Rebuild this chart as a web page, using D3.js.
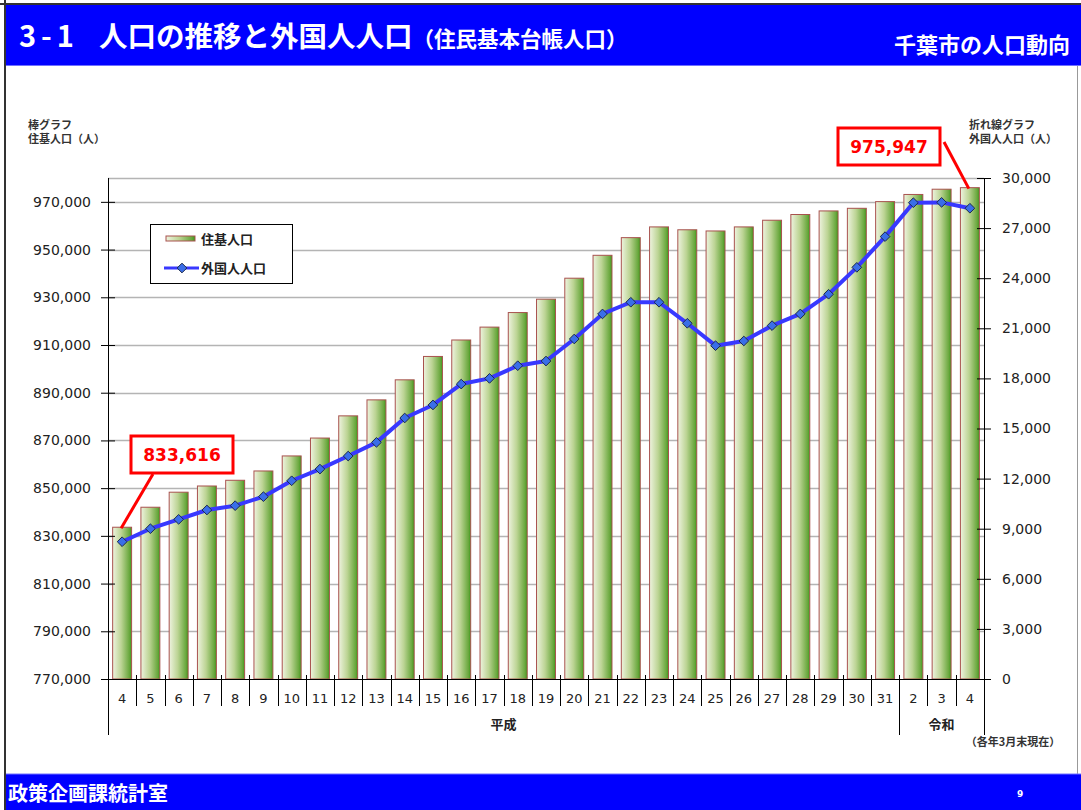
<!DOCTYPE html>
<html>
<head>
<meta charset="utf-8">
<script src="https://cdn.jsdelivr.net/npm/d3@7"></script>
<style>
  body { margin: 0; background: #fff; }
  svg { display: block; }
  .jp { font-family: "Noto Sans CJK JP", "Noto Sans", sans-serif; }
  .num { font-family: "DejaVu Sans", Verdana, sans-serif; }
</style>
</head>
<body>
<script>
// 年次ラベル（平成4年〜令和4年、各年3月末）
const yearLabels = ["4","5","6","7","8","9","10","11","12","13","14","15","16","17","18","19",
  "20","21","22","23","24","25","26","27","28","29","30","31","2","3","4"];
const eraNames = ["平成", "令和"];
const eraSpans = [28, 3];

// 住基人口（棒グラフ）
const residents = [833616, 842000, 848300, 850900, 853300, 857200, 863500, 871000, 880300, 887000,
  895400, 905200, 912100, 917500, 923600, 929200, 938000, 947600, 955000, 959500,
  958300, 957800, 959500, 962300, 964700, 966200, 967300, 970100, 973100, 975300, 975947];

// 外国人人口（折れ線グラフ）
const foreigners = [8220, 9000, 9560, 10120, 10380, 10920, 11870, 12570, 13350, 14170,
  15630, 16410, 17660, 18000, 18760, 19040, 20360, 21860, 22560, 22560,
  21300, 19960, 20240, 21160, 21860, 23040, 24650, 26490, 28520, 28540, 28190];

const leftTicks = d3.range(770000, 970001, 20000);
const rightTicks = d3.range(0, 30001, 3000);

const W = 1081, H = 810;
const plot = { left: 108, right: 984, top: 178, bottom: 679 };

const svg = d3.select("body").append("svg")
    .attr("width", W)
    .attr("height", H);

// header / footer
svg.append("rect").attr("x", 0).attr("y", 0).attr("width", W).attr("height", H).attr("fill", "#fff");
svg.append("rect").attr("x", 6).attr("y", 5).attr("width", W - 6).attr("height", 60).attr("fill", "#0000ff");
svg.append("line").attr("x1", 6).attr("x2", W).attr("y1", 65.5).attr("y2", 65.5).attr("stroke", "#7070ff");
svg.append("line").attr("x1", 0).attr("x2", W).attr("y1", 4).attr("y2", 4).attr("stroke", "#333").attr("stroke-width", 2);
svg.append("line").attr("x1", 5).attr("x2", 5).attr("y1", 0).attr("y2", H).attr("stroke", "#333").attr("stroke-width", 2);
svg.append("line").attr("x1", 1077.5).attr("x2", 1077.5).attr("y1", 66).attr("y2", 774).attr("stroke", "#999");

const title = svg.append("text").attr("class", "jp")
    .attr("y", 47)
    .attr("fill", "#fff").attr("font-weight", "bold");
title.append("tspan").attr("x", 19).attr("font-size", 29).attr("letter-spacing", 5).text("3-1");
title.append("tspan").attr("x", 99).attr("font-size", 28.5).text("人口の推移と外国人人口");
title.append("tspan").attr("font-size", 21.5).text("（住民基本台帳人口）");

svg.append("text").attr("class", "jp")
    .attr("x", 1070).attr("y", 53)
    .attr("text-anchor", "end")
    .attr("fill", "#fff").attr("font-weight", "bold").attr("font-size", 22)
    .text("千葉市の人口動向");

svg.append("rect").attr("x", 6).attr("y", 774).attr("width", W - 6).attr("height", 36).attr("fill", "#0000ff");
svg.append("line").attr("x1", 6).attr("x2", W).attr("y1", 774).attr("y2", 774).attr("stroke", "#7070ff");
svg.append("text").attr("class", "jp")
    .attr("x", 8).attr("y", 801)
    .attr("fill", "#fff").attr("font-weight", "bold").attr("font-size", 20)
    .text("政策企画課統計室");
svg.append("text").attr("class", "num")
    .attr("x", 1017).attr("y", 797)
    .attr("fill", "#fff").attr("font-weight", "bold").attr("font-size", 9)
    .text("9");

// scales
const x = d3.scaleBand()
    .domain(d3.range(yearLabels.length))
    .range([plot.left, plot.right])
    .paddingInner(0.33)
    .paddingOuter(0.165);

const yL = d3.scaleLinear().domain([770000, 980000]).range([plot.bottom, plot.top]);
const yR = d3.scaleLinear().domain([0, 30000]).range([plot.bottom, plot.top]);

// gradient for bars
const defs = svg.append("defs");
const grad = defs.append("linearGradient").attr("id", "barGrad")
    .attr("x1", "0%").attr("x2", "100%").attr("y1", "0%").attr("y2", "0%");
grad.append("stop").attr("offset", "0%").attr("stop-color", "#eef3df");
grad.append("stop").attr("offset", "45%").attr("stop-color", "#bcd494");
grad.append("stop").attr("offset", "88%").attr("stop-color", "#6aa83e");
grad.append("stop").attr("offset", "100%").attr("stop-color", "#3a9a1c");

// grid
svg.append("g").selectAll("line")
    .data(leftTicks.filter(d => d > 770000).concat([980000]))
    .join("line")
    .attr("x1", plot.left).attr("x2", plot.right)
    .attr("y1", d => Math.round(yL(d)) + 0.5).attr("y2", d => Math.round(yL(d)) + 0.5)
    .attr("stroke", "#b4b4b4").attr("stroke-width", 1.5);

// bars
svg.append("g").selectAll("rect")
    .data(residents)
    .join("rect")
    .attr("x", (d, i) => x(i))
    .attr("y", d => yL(d))
    .attr("width", x.bandwidth())
    .attr("height", d => plot.bottom - yL(d))
    .attr("fill", "url(#barGrad)")
    .attr("stroke", "#a8524e")
    .attr("stroke-width", 1);

// axes
const axL = svg.append("g").attr("class", "num")
    .attr("transform", `translate(${plot.left},0)`)
    .call(d3.axisLeft(yL).tickValues(leftTicks).tickFormat(d3.format(",")).tickSize(7).tickPadding(10));
axL.select(".domain").remove();
axL.selectAll(".tick line").attr("x1", 7).attr("stroke", "#000");
axL.selectAll("text").attr("font-size", 14).attr("fill", "#222");

const axR = svg.append("g").attr("class", "num")
    .attr("transform", `translate(${plot.right},0)`)
    .call(d3.axisRight(yR).tickValues(rightTicks).tickFormat(d3.format(",")).tickSize(7).tickPadding(11));
axR.select(".domain").remove();
axR.selectAll(".tick line").attr("x1", -7).attr("stroke", "#000");
axR.selectAll("text").attr("font-size", 14).attr("fill", "#222");

// axis lines and category separators
const step = x.step();
const eraBounds = Array.from(d3.cumsum(eraSpans));
const eraStart = [0].concat(eraBounds.slice(0, -1));
svg.append("line").attr("x1", plot.left - 7).attr("x2", plot.right + 7)
    .attr("y1", plot.bottom + 0.5).attr("y2", plot.bottom + 0.5).attr("stroke", "#000");
svg.append("line").attr("x1", plot.left + 0.5).attr("x2", plot.left + 0.5)
    .attr("y1", plot.top).attr("y2", 735).attr("stroke", "#000");
svg.append("line").attr("x1", plot.right + 0.5).attr("x2", plot.right + 0.5)
    .attr("y1", plot.top).attr("y2", 735).attr("stroke", "#000");
svg.append("g").selectAll("line")
    .data(d3.range(1, yearLabels.length))
    .join("line")
    .attr("x1", i => Math.round(plot.left + i * step) + 0.5)
    .attr("x2", i => Math.round(plot.left + i * step) + 0.5)
    .attr("y1", plot.bottom - 4)
    .attr("y2", i => eraBounds.includes(i) ? 735 : 706)
    .attr("stroke", "#000");

svg.append("g").selectAll("text")
    .data(yearLabels)
    .join("text")
    .attr("class", "num")
    .attr("x", (d, i) => x(i) + x.bandwidth() / 2)
    .attr("y", 703)
    .attr("text-anchor", "middle")
    .attr("font-size", 13)
    .attr("fill", "#222")
    .text(d => d);

svg.append("g").selectAll("text")
    .data(eraNames)
    .join("text")
    .attr("class", "jp")
    .attr("x", (d, i) => plot.left + (eraStart[i] + eraSpans[i] / 2) * step)
    .attr("y", 729)
    .attr("text-anchor", "middle")
    .attr("font-size", 13)
    .attr("font-weight", "bold")
    .attr("fill", "#222")
    .text(d => d);

svg.append("text").attr("class", "jp")
    .attr("x", 1013).attr("y", 746)
    .attr("text-anchor", "middle")
    .attr("font-size", 11).attr("font-weight", "bold").attr("fill", "#333")
    .text("（各年3月末現在）");

// line
const line = d3.line()
    .x((d, i) => x(i) + x.bandwidth() / 2)
    .y(d => yR(d));
svg.append("path")
    .datum(foreigners)
    .attr("d", line)
    .attr("fill", "none")
    .attr("stroke", "#3838ff")
    .attr("stroke-width", 4)
    .attr("stroke-linejoin", "round");

const diamond = d3.symbol().type(d3.symbolDiamond2).size(60);
svg.append("g").selectAll("path")
    .data(foreigners)
    .join("path")
    .attr("d", diamond)
    .attr("transform", (d, i) => `translate(${x(i) + x.bandwidth() / 2},${yR(d)})`)
    .attr("fill", "#3a6ee8")
    .attr("stroke", "#1c2a4a")
    .attr("stroke-width", 1);

// axis titles
const tl = svg.append("text").attr("class", "jp")
    .attr("font-size", 11).attr("font-weight", "bold").attr("fill", "#333");
tl.append("tspan").attr("x", 28).attr("y", 129).text("棒グラフ");
tl.append("tspan").attr("x", 28).attr("y", 143).text("住基人口（人）");
const tr = svg.append("text").attr("class", "jp")
    .attr("font-size", 11).attr("font-weight", "bold").attr("fill", "#333");
tr.append("tspan").attr("x", 969).attr("y", 129).text("折れ線グラフ");
tr.append("tspan").attr("x", 969).attr("y", 143).text("外国人人口（人）");

// legend
const lg = svg.append("g").attr("transform", "translate(150,224)");
lg.append("rect").attr("x", 0.5).attr("y", 0.5).attr("width", 142).attr("height", 59)
    .attr("fill", "#fff").attr("stroke", "#000");
lg.append("rect").attr("x", 16).attr("y", 12).attr("width", 29).attr("height", 5)
    .attr("fill", "url(#barGrad)").attr("stroke", "#a8524e");
lg.append("line").attr("x1", 14).attr("x2", 49).attr("y1", 44).attr("y2", 44)
    .attr("stroke", "#3838ff").attr("stroke-width", 3);
lg.append("path").attr("d", diamond).attr("transform", "translate(32,44)")
    .attr("fill", "#3a6ee8").attr("stroke", "#1c2a4a");
lg.append("text").attr("class", "jp").attr("x", 51).attr("y", 20)
    .attr("font-size", 13).attr("font-weight", "bold").attr("fill", "#222").text("住基人口");
lg.append("text").attr("class", "jp").attr("x", 51).attr("y", 49)
    .attr("font-size", 13).attr("font-weight", "bold").attr("fill", "#222").text("外国人人口");

// callouts for first and last values
const callouts = [
  { i: 0, bx: 131, by: 436, lx: 153, ly: 474 },
  { i: residents.length - 1, bx: 838, by: 128, lx: 944, ly: 142 }
];
callouts.forEach(c => {
  const v = residents[c.i];
  svg.append("line")
      .attr("x1", c.lx).attr("y1", c.ly)
      .attr("x2", x(c.i) + x.bandwidth() / 2 - 1).attr("y2", yL(v) + 1)
      .attr("stroke", "#ff0000").attr("stroke-width", 3);
  svg.append("rect")
      .attr("x", c.bx).attr("y", c.by).attr("width", 102).attr("height", 37)
      .attr("fill", "#fff").attr("stroke", "#ff0000").attr("stroke-width", 3);
  svg.append("text").attr("class", "num")
      .attr("x", c.bx + 51).attr("y", c.by + 25)
      .attr("text-anchor", "middle")
      .attr("font-size", 17).attr("font-weight", "bold").attr("fill", "#ff0000")
      .text(d3.format(",")(v));
});
</script>
</body>
</html>
